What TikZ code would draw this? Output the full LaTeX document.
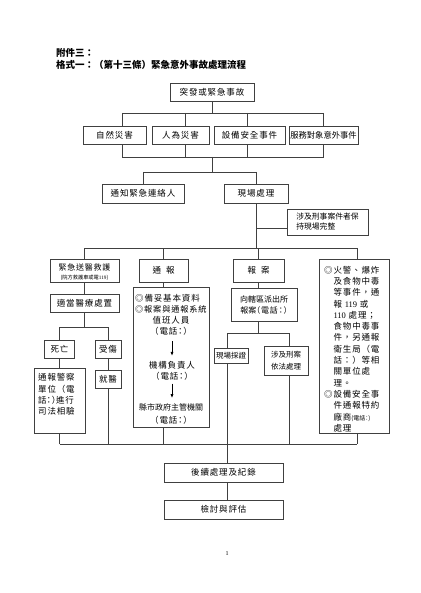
\documentclass[tikz,border=0pt]{standalone}
\usepackage{fontspec}
\setmainfont{Noto Sans CJK TC}[LetterSpace=10]
\newfontfamily\cjn{Noto Sans CJK TC}
\newfontfamily\cjh{Noto Sans CJK TC}[LetterSpace=10,RawFeature=+halt]
\newfontfamily\cjnh{Noto Sans CJK TC}[RawFeature=+halt]
\newfontfamily\lat{Liberation Serif}
\usetikzlibrary{arrows.meta}
\newcommand\hw[1]{{\cjh #1}}
\tikzset{
  ln/.style={draw=black!75, line width=0.6pt},
  bx/.style={draw=black!75, line width=0.6pt, rectangle, inner sep=0pt, align=center},
  txt/.style={inner sep=0pt},
  arr/.style={draw=black, line width=0.8pt, -{Latex[length=4pt,width=3.2pt]}},
  ind/.style={}
}
\newcommand\ii{\hspace*{9.35pt}}
\begin{document}
\begin{tikzpicture}[x=1pt,y=-1pt,font=\fontsize{8.5}{11.3}\selectfont]
\fill[white] (0,0) rectangle (420,593);
\useasboundingbox (0,0) rectangle (420,593);

% titles
\node[txt,anchor=west,font=\cjn\bfseries\fontsize{9.5}{12}\selectfont] (t1) at (56,53) {附件三：};
\node[txt,anchor=west,font=\cjn\bfseries\fontsize{9.5}{12}\selectfont] (t2) at (56,65) {格式一：（第十三條）緊急意外事故處理流程};

% bus levels
\coordinate (ya) at (0,113);
\coordinate (yb) at (0,157);
\coordinate (yc) at (0,172);
\coordinate (yd) at (0,248);
\coordinate (yh) at (0,228);
\coordinate (ye) at (0,327);
\coordinate (yf) at (0,333);
\coordinate (yg) at (0,444);

% boxes
\node[bx,minimum width=84,minimum height=18] (top) at (212,92) {突發或緊急事故};
\node[bx,minimum width=63,minimum height=18] (a1) at (114.5,135) {自然災害};
\node[bx,minimum width=57,minimum height=18] (a2) at (180.5,135) {人為災害};
\node[bx,minimum width=71,minimum height=18] (a3) at (249.5,135) {設備安全事件};
\node[bx,minimum width=69,minimum height=18,font=\cjn\fontsize{8.3}{10}\selectfont] (a4) at (323.5,135) {服務對象意外事件};

\node[bx,minimum width=82,minimum height=19] (b1) at (143,193.5) {通知緊急連絡人};
\node[bx,minimum width=64,minimum height=19] (b2) at (256,193.5) {現場處理};
\node[bx,minimum width=81,minimum height=26,align=left,font=\cjn\fontsize{7.8}{10}\selectfont] (c1) at (327.5,222) {涉及刑事案件者保\\持現場完整};

\node[bx,minimum width=69,minimum height=23] (d1) at (84.5,270.5) {};
\node[txt,font=\fontsize{8}{10}\selectfont] (d1t) at (84.5,267.5) {緊急送醫救護};
\node[txt,font=\cjn\fontsize{5.2}{6}\selectfont] (d1s) at (84.5,277.5) {(院方救護車或電{\lat 119})};
\node[bx,minimum width=49,minimum height=23] (d2) at (163.5,270.5) {通\hspace{5pt}報};
\node[bx,minimum width=51,minimum height=23] (d3) at (258.5,270.5) {報\hspace{5pt}案};
\node[bx,minimum width=70,minimum height=174] (d4) at (354,346) {};
\node[txt,anchor=west,align=left] (d4t) at (324,349) {◎火警、爆炸\\
\ii 及食物中毒\\
\ii 等事件，通\\
\ii 報 {\lat 119} 或\\
\ii {\lat 110} 處理；\\
\ii 食物中毒事\\
\ii 件，另通報\\
\ii 衛生局（電\\
\ii 話：）等相\\
\ii 關單位處\\
\ii 理。\\
◎設備安全事\\
\ii 件通報特約\\
\ii 廠商{\cjnh\fontsize{6}{11.3}\selectfont (電話：)}\\
\ii 處理};

\node[bx,minimum width=69,minimum height=18] (e1) at (84.5,303) {適當醫療處置};
\node[bx,minimum width=76,minimum height=140] (e2) at (171,357) {};
\node[txt,anchor=west] (l1) at (135,298) {◎備妥基本資料};
\node[txt,anchor=west,font=\fontsize{8.2}{10}\selectfont] (l2) at (135,309) {◎報案與通報系統};
\node[txt] (l3) at (171,320) {值班人員};
\node[txt] (l4) at (171,331) {\hw{（電話：）}};
\node[txt] (l5) at (172,365) {機構負責人};
\node[txt] (l6) at (172,376) {\hw{（電話：）}};
\node[txt,font=\cjn\fontsize{8}{10}\selectfont] (l7) at (171,407) {縣市政府主管機關};
\node[txt] (l8) at (171,420) {\hw{（電話：）}};
\draw[arr,shorten <=6pt,shorten >=5pt] (l4.south -| l5.north) -- (l5.north);
\draw[arr,shorten <=3.5pt,shorten >=5pt] (l6.south) -- (l6.south |- l7.north);

\node[bx,minimum width=66,minimum height=33,font=\cjn\fontsize{8}{11}\selectfont] (e3) at (264,304.5) {向轄區派出所\\報案\hw{（電話：）}};

\node[bx,minimum width=30,minimum height=18] (f1) at (59.5,349) {死亡};
\node[bx,minimum width=26,minimum height=18] (f2) at (108,349) {受傷};
\node[bx,minimum width=51,minimum height=65] (g1) at (59.5,400.5) {};
\node[txt,anchor=west,align=left] (g1t) at (38,394.5) {通報警察\\單位（電\\話\hw{：）}進行\\司法相驗};
\node[bx,minimum width=26,minimum height=18] (g2) at (108,379) {就醫};

\node[bx,minimum width=34,minimum height=15,font=\cjn\fontsize{7.5}{10}\selectfont] (h1) at (231,355.5) {現場採證};
\node[bx,minimum width=44,minimum height=29,font=\cjn\fontsize{7.5}{12}\selectfont] (h2) at (286,360.5) {涉及刑案\\依法處理};

\node[bx,minimum width=119,minimum height=19] (i1) at (223.5,472.5) {後續處理及紀錄};
\node[bx,minimum width=119,minimum height=19] (i2) at (223.5,509.5) {檢討與評估};

\node[txt,font=\lat\fontsize{6}{7}\selectfont] (pg) at (227,554) {1};

% connectors top
\draw[ln] (top.south) -- (top.south |- ya);
\draw[ln] ([xshift=7.5pt]a1.north |- ya) -- (a4.north |- ya);
\draw[ln] ([xshift=7.5pt]a1.north |- ya) -- ([xshift=7.5pt]a1.north);
\draw[ln] ([xshift=4.5pt]a2.north |- ya) -- ([xshift=4.5pt]a2.north);
\draw[ln] ([xshift=-2.5pt]a3.north |- ya) -- ([xshift=-2.5pt]a3.north);
\draw[ln] (a4.north |- ya) -- (a4.north);
\draw[ln] ([xshift=7.5pt]a1.south) -- ([xshift=7.5pt]a1.south |- yb);
\draw[ln] ([xshift=4.5pt]a2.south) -- ([xshift=4.5pt]a2.south |- yb);
\draw[ln] ([xshift=-2.5pt]a3.south) -- ([xshift=-2.5pt]a3.south |- yb);
\draw[ln] (a4.south) -- (a4.south |- yb);
\draw[ln] ([xshift=7.5pt]a1.south |- yb) -- (a4.south |- yb);
\draw[ln] (top.south |- yb) -- (top.south |- yc);
\draw[ln] (b1.north |- yc) -- (b2.north |- yc);
\draw[ln] (b1.north |- yc) -- (b1.north);
\draw[ln] (b2.north |- yc) -- (b2.north);

% second level
\draw[ln] (b2.south) -- (b2.south |- yd);
\draw[ln] (b2.south |- yh) -- (c1.west |- yh);
\draw[ln] (d1.north |- yd) -- ([xshift=3pt]d4.north |- yd);
\draw[ln] (d1.north |- yd) -- (d1.north);
\draw[ln] (d2.north |- yd) -- (d2.north);
\draw[ln] (d3.north |- yd) -- (d3.north);
\draw[ln] ([xshift=3pt]d4.north |- yd) -- ([xshift=3pt]d4.north);

% left branch
\draw[ln] (d1.south) -- (e1.north);
\draw[ln] (e1.south) -- (e1.south |- ye);
\draw[ln] (f1.north |- ye) -- (f2.north |- ye);
\draw[ln] (f1.north |- ye) -- (f1.north);
\draw[ln] (f2.north |- ye) -- (f2.north);
\draw[ln] (f1.south) -- (g1.north);
\draw[ln] (f2.south) -- (g2.north);

% middle
\draw[ln] (d2.south) -- (d2.south |- e2.north);
\draw[ln] (d3.south) -- (d3.south |- e3.north);
\draw[ln] (d3.south |- e3.south) -- (d3.south |- yf);
\draw[ln] ([xshift=-4pt]h1.north |- yf) -- ([xshift=3pt]h2.north |- yf);
\draw[ln] ([xshift=-4pt]h1.north |- yf) -- ([xshift=-4pt]h1.north);
\draw[ln] ([xshift=3pt]h2.north |- yf) -- ([xshift=3pt]h2.north);

% bottom bus
\draw[ln] (g1.south) -- (g1.south |- yg);
\draw[ln] (g2.south) -- (g2.south |- yg);
\draw[ln] (d2.south |- e2.south) -- (d2.south |- yg);
\draw[ln] ([xshift=-4pt]h1.south) -- ([xshift=-4pt]h1.south |- yg);
\draw[ln] ([xshift=3pt]h2.south) -- ([xshift=3pt]h2.south |- yg);
\draw[ln] ([xshift=3pt]d4.south) -- ([xshift=3pt]d4.south |- yg);
\draw[ln] (g1.south |- yg) -- ([xshift=3pt]d4.south |- yg);
\draw[ln] ([xshift=3.5pt]i1.north |- yg) -- ([xshift=3.5pt]i1.north);
\draw[ln] ([xshift=3.5pt]i1.south) -- ([xshift=3.5pt]i2.north);
\end{tikzpicture}
\end{document}
